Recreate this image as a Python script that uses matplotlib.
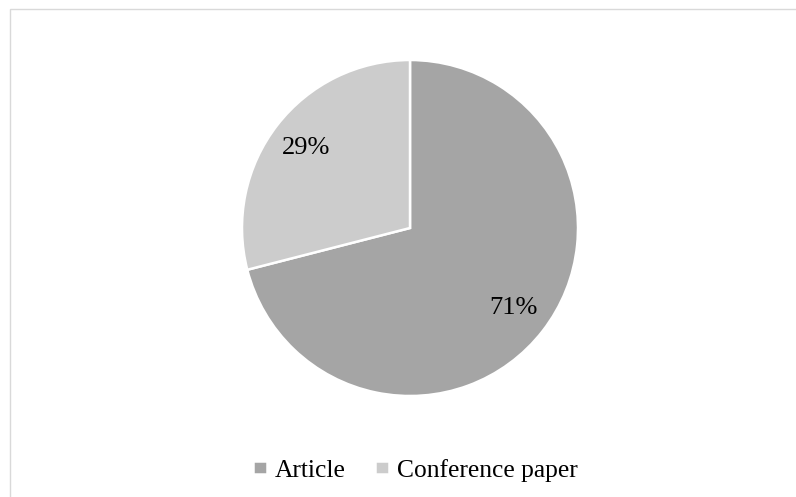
import matplotlib.pyplot as plt
from matplotlib.patches import Rectangle

# document types share
labels = ['Article', 'Conference paper']
shares = [71, 29]
colors = ['#a5a5a5', '#cccccc']

plt.rcParams['font.family'] = ['Liberation Serif', 'DejaVu Serif']

fig = plt.figure(figsize=(7.96, 4.97), dpi=100)

# light frame around the chart area
fig.patches.append(Rectangle((10 / 796, -0.1), 1.0, 1 - 9 / 497 + 0.1,
                             transform=fig.transFigure, fill=False,
                             edgecolor='#d9d9d9', linewidth=1.0))

ax = fig.add_axes([242 / 796, 101 / 497, 336 / 796, 336 / 497])
wedges, texts, autotexts = ax.pie(shares, colors=colors, startangle=90,
                                  counterclock=False, autopct='%d%%',
                                  pctdistance=0.78,
                                  wedgeprops=dict(edgecolor='white', linewidth=1.8),
                                  textprops=dict(fontsize=19, color='black'))
ax.set_xlim(-1, 1)
ax.set_ylim(-1, 1)
ax.set_aspect('equal')

fig.legend(wedges, labels, loc='center', bbox_to_anchor=(0.522, 0.054),
           ncol=2, frameon=False, fontsize=18.4, handlelength=0.55,
           handleheight=0.42, handletextpad=0.3, columnspacing=1.15)

fig.savefig('out.png', dpi=100)
